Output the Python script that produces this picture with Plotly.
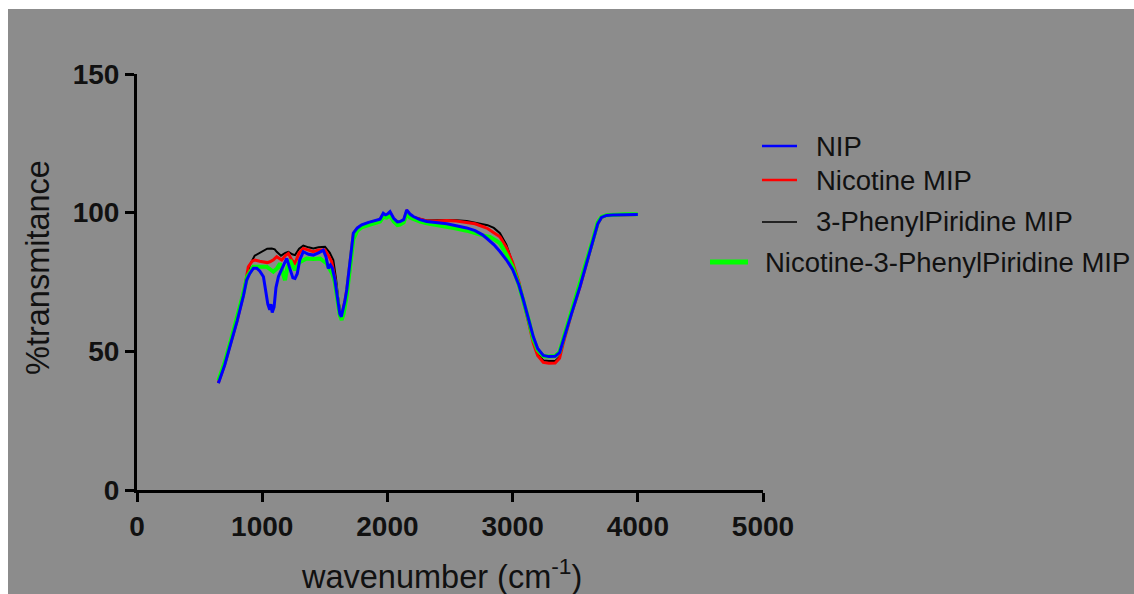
import plotly.graph_objects as go

# ---------------- data ----------------
nip_w = [650, 700, 750, 800, 850, 876, 900, 930, 956, 980, 1010, 1030, 1045, 1060, 1070, 1080,
         1095, 1110, 1130, 1160, 1196, 1220, 1245, 1262, 1280, 1300, 1328, 1370, 1408, 1450, 1488,
         1510, 1528, 1545, 1560, 1580, 1600, 1620, 1632, 1645, 1660, 1675, 1700, 1728, 1760, 1795,
         1850, 1900, 1941, 1967, 1985, 2000, 2021, 2050, 2080, 2101, 2130, 2154, 2180, 2207, 2260,
         2314, 2400, 2474, 2550, 2633, 2700, 2760, 2800, 2850, 2899, 2950, 3000, 3050, 3086, 3130,
         3165, 3200, 3245, 3290, 3340, 3375, 3405, 3470, 3538, 3600, 3645, 3680, 3710, 3750, 3800,
         3900, 4000]
nip_t = [38.5, 45, 53, 61, 70, 75.7, 78, 80, 80, 79, 76.9, 72, 67, 65, 67, 64,
         66, 73, 77, 80, 83.5, 80, 76.5, 76.3, 78, 83, 85.9, 85, 84.7, 85.5, 86.5,
         84, 79.9, 81.1, 80, 76, 70, 63.5, 62.5, 65, 68, 72.1, 83, 92.6, 94.5, 95.6,
         96.5, 97, 97.6, 99.8, 99.2, 99.5, 100.4, 98, 96.7, 96.8, 97.5, 101.0, 99.5, 98.6, 97.5,
         96.8, 96.5, 96, 95.3, 94.5, 93.5, 92, 90.5, 88.5, 86, 83, 79.5, 74, 68.5, 61,
         55.3, 51, 48.5, 48.1, 48.2, 49.5, 54.1, 63.5, 73.3, 83, 90.1, 96, 98.3, 99, 99.2,
         99.3, 99.3]

nic_w = [650, 700, 750, 800, 850, 889, 920, 942, 980, 1009, 1040, 1062, 1090, 1116, 1140, 1156,
         1185, 1209, 1235, 1262, 1295, 1328, 1370, 1408, 1450, 1502, 1530, 1555, 1580, 1600, 1620,
         1632, 1645, 1660, 1675, 1700, 1728, 1760, 1795, 1850, 1900, 1941, 1967, 1985, 2000, 2021,
         2050, 2080, 2101, 2130, 2154, 2180, 2207, 2260, 2314, 2400, 2474, 2550, 2633, 2700, 2760,
         2800, 2850, 2899, 2950, 3000, 3050, 3086, 3130, 3165, 3200, 3245, 3290, 3340, 3375, 3405,
         3470, 3538, 3600, 3645, 3680, 3710, 3750, 3800, 3900, 4000]
nic_t = [38.7, 45.2, 53.2, 61.2, 70.5, 80.5, 82.5, 82.9, 82.5, 82.3, 82, 82.3, 83, 84.1, 83.5, 82.9,
         84.5, 85.3, 83, 81.7, 85.5, 87.1, 86.5, 85.9, 86.5, 86.5, 84.5, 82.3, 76.5, 70, 63.5,
         62.5, 65, 68, 72, 82.8, 92.4, 94.3, 95.4, 96.3, 96.8, 97.4, 99.4, 98.9, 99.2, 100,
         97.7, 96.5, 96.6, 97.3, 100.4, 99.2, 98.4, 97.6, 97, 97, 97.2, 97, 96.5, 96, 95,
         94.3, 92.8, 91.3, 87.5, 82, 75, 68.5, 60, 53, 48.5, 46, 45.7, 45.8, 47.5, 53,
         63.5, 73.3, 83, 90.1, 96, 98.3, 99, 99.2, 99.3, 99.3]

phe_w = [650, 700, 750, 800, 850, 900, 940, 969, 1000, 1040, 1076, 1100, 1116, 1150, 1185, 1209,
         1240, 1262, 1295, 1328, 1370, 1408, 1450, 1502, 1540, 1568, 1590, 1610, 1632, 1645, 1660,
         1675, 1700, 1728, 1760, 1795, 1850, 1900, 1941, 1967, 1985, 2000, 2021, 2050, 2080, 2101,
         2130, 2154, 2180, 2207, 2260, 2314, 2400, 2474, 2550, 2633, 2700, 2760, 2800, 2850, 2899,
         2950, 3000, 3050, 3086, 3130, 3165, 3200, 3245, 3290, 3340, 3375, 3405, 3470, 3538, 3600,
         3645, 3680, 3710, 3750, 3800, 3900, 4000]
phe_t = [38.7, 45.2, 53.2, 61.2, 70.5, 81, 84.5, 85.3, 86, 87, 87.1, 86.8, 85.9, 84.5, 85.5, 85.9,
         85, 84.7, 87, 88.1, 87.5, 87.1, 87.5, 87.7, 85.5, 82.9, 76, 68, 62.5, 65, 68,
         72, 82.8, 92.4, 94.3, 95.4, 96.3, 96.8, 97.4, 99.4, 98.9, 99.2, 100, 97.7, 96.5, 96.6,
         97.3, 100.4, 99.2, 98.4, 97.7, 97.2, 97.3, 97.4, 97.3, 97, 96.5, 96, 95.5, 94.5, 92.6,
         88.5, 82, 75, 68.5, 60.5, 53.5, 49, 46.7, 46.5, 46.5, 48, 53.5, 63.5, 73.3, 83,
         90.1, 96, 98.3, 99, 99.2, 99.3, 99.3]

mix_w = [650, 700, 750, 800, 850, 880, 929, 980, 1036, 1089, 1120, 1142, 1165, 1182, 1200, 1222,
         1240, 1262, 1295, 1355, 1408, 1462, 1515, 1540, 1560, 1580, 1600, 1620, 1635, 1650, 1675,
         1700, 1728, 1760, 1795, 1850, 1900, 1941, 1967, 1994, 2021, 2050, 2080, 2101, 2130, 2154,
         2180, 2207, 2260, 2314, 2400, 2474, 2550, 2633, 2700, 2760, 2819, 2850, 2899, 2950, 3000,
         3050, 3086, 3130, 3165, 3200, 3245, 3290, 3340, 3375, 3405, 3470, 3538, 3600, 3645, 3680,
         3710, 3750, 3800, 3900, 4000]
mix_t = [39.5, 46, 54, 62, 71, 77, 80.5, 80.5, 80.5, 78.7, 80, 81.7, 78, 75.7, 80, 82.9,
         81, 79.3, 82, 83.5, 83.3, 83.5, 81.7, 80, 78, 75, 69, 63, 61.3, 63.5, 70,
         80, 90.5, 93.5, 94.7, 95.5, 96.2, 96.8, 98.5, 98.2, 99, 96.8, 95.5, 95.7, 96.5, 99.5,
         98.2, 97.7, 96.8, 96.2, 95.6, 95, 94.3, 93.5, 92.5, 91.8, 91.3, 90.3, 89, 85, 80.5,
         74, 68.5, 61, 54.5, 50.5, 48.3, 48.1, 48.3, 49.8, 54.5, 64, 74, 83.5, 90.8, 96.5,
         98.5, 99.1, 99.3, 99.4, 99.4]

series_names = ["NIP", "Nicotine MIP", "3-PhenylPiridine MIP", "Nicotine-3-PhenylPiridine MIP"]
x_ticks = [0, 1000, 2000, 3000, 4000, 5000]
y_ticks = [0, 50, 100, 150]

# ---------------- layout helpers ----------------
W, H = 1134, 594
L, R, T, B = 137, 763, 74, 490
def px(x):
    return (x - L) / (R - L)
def py(y):
    return (B - y) / (B - T)

FONT = "Arial, Liberation Sans, sans-serif"
TXT = "#111111"

fig = go.Figure()
# draw order: black, red, green, blue (blue on top)
fig.add_trace(go.Scatter(x=phe_w, y=phe_t, mode="lines", name=series_names[2],
                         line=dict(color="#000000", width=2)))
fig.add_trace(go.Scatter(x=nic_w, y=nic_t, mode="lines", name=series_names[1],
                         line=dict(color="#ff0000", width=3)))
fig.add_trace(go.Scatter(x=mix_w, y=mix_t, mode="lines", name=series_names[3],
                         line=dict(color="#00ff00", width=4)))
fig.add_trace(go.Scatter(x=nip_w, y=nip_t, mode="lines", name=series_names[0],
                         line=dict(color="#0000ff", width=3)))

shapes = [
    dict(type="rect", xref="paper", yref="paper", layer="below",
         x0=px(8), x1=px(1200), y0=py(650), y1=py(9),
         fillcolor="#8c8c8c", line=dict(width=0)),
]
# manual legend (matches the reference's staggered layout)
leg = [
    (series_names[0], "#0000ff", 2.5, 762, 797, 146, 814),
    (series_names[1], "#ff0000", 2.5, 762, 797, 180, 814),
    (series_names[2], "#000000", 1.5, 762, 797, 222, 814),
    (series_names[3], "#00ff00", 5, 710, 748, 262, 763),
]
annotations = []
for name, col, lw, x0, x1, yy, tx in leg:
    shapes.append(dict(type="line", xref="paper", yref="paper",
                       x0=px(x0), x1=px(x1), y0=py(yy), y1=py(yy),
                       line=dict(color=col, width=lw)))
    annotations.append(dict(xref="paper", yref="paper", x=px(tx), y=py(yy),
                            xanchor="left", yanchor="middle", showarrow=False,
                            text=name, font=dict(family=FONT, size=27.5, color=TXT)))

# axis titles
annotations.append(dict(xref="paper", yref="paper", x=px(441), y=py(574),
                        xanchor="center", yanchor="middle", showarrow=False,
                        text="wavenumber (cm<sup>-1</sup>)",
                        font=dict(family=FONT, size=32.5, color=TXT)))
annotations.append(dict(xref="paper", yref="paper", x=px(38), y=py(268),
                        xanchor="center", yanchor="middle", showarrow=False,
                        textangle=-90, text="%transmitance",
                        font=dict(family=FONT, size=32.5, color=TXT)))

axis_common = dict(showgrid=False, zeroline=False, showline=True, linecolor="#000000",
                   linewidth=3, ticks="outside", ticklen=9, tickwidth=3, tickcolor="#000000",
                   tickfont=dict(family=FONT, size=28, color=TXT, weight="bold"))

fig.update_layout(
    width=W, height=H,
    margin=dict(l=L, r=W - R, t=T, b=H - B, pad=0),
    paper_bgcolor="#ffffff",
    plot_bgcolor="rgba(0,0,0,0)",
    showlegend=False,
    shapes=shapes,
    annotations=annotations,
    xaxis=dict(range=[0, 5000], tickvals=x_ticks, ticktext=[str(v) for v in x_ticks],
               **axis_common),
    yaxis=dict(range=[0, 150], tickvals=y_ticks, ticktext=[str(v) for v in y_ticks],
               **axis_common),
)

fig.write_html("out.html")
